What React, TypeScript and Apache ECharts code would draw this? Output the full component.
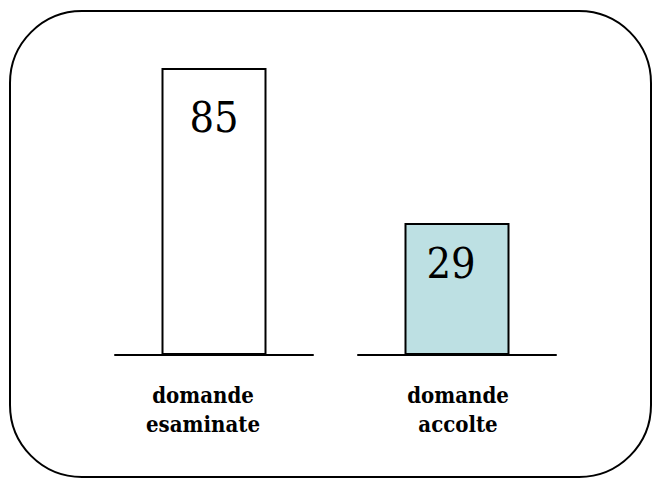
import React, { useEffect, useRef } from "react";
import * as echarts from "echarts";

const categoriesA = ["domande\nesaminate"];
const categoriesB = ["domande\naccolte"];
const valuesA = [85];
const valuesB = [29];
const axisMaxA = 90;
const axisMaxB = 66.8;

const SERIF_C = "'DejaVu Serif Condensed', 'DejaVu Serif', serif";

export default function App() {
  const ref = useRef<HTMLDivElement>(null);
  useEffect(() => {
    document.body.style.margin = "0";
    const chart = echarts.init(ref.current!, null, { renderer: "svg" });
    const catLabel = {
      fontFamily: SERIF_C,
      fontWeight: "bold",
      fontSize: 22,
      lineHeight: 29,
      color: "#000",
      margin: 25,
    };
    const valueLabel = {
      show: true,
      fontFamily: SERIF_C,
      fontSize: 43,
      color: "#000",
      align: "center",
      verticalAlign: "middle",
    };
    chart.setOption({
      animation: false,
      backgroundColor: "#fff",
      graphic: [
        {
          type: "rect",
          shape: { x: 10, y: 11, width: 641, height: 466, r: 72 },
          style: { fill: "none", stroke: "#000", lineWidth: 2 },
          silent: true,
        },
      ],
      grid: [
        { left: 115, width: 198, top: 51, height: 304 },
        { left: 358, width: 198, top: 51, height: 304 },
      ],
      xAxis: [
        {
          type: "category",
          gridIndex: 0,
          data: categoriesA,
          axisLine: { lineStyle: { color: "#000", width: 2 } },
          axisTick: { show: false },
          axisLabel: { ...catLabel, padding: [0, 22, 0, 0] },
        },
        {
          type: "category",
          gridIndex: 1,
          data: categoriesB,
          axisLine: { lineStyle: { color: "#000", width: 2 } },
          axisTick: { show: false },
          axisLabel: { ...catLabel, padding: [0, 0, 0, 2] },
        },
      ],
      yAxis: [
        { type: "value", gridIndex: 0, min: 0, max: axisMaxA, show: false, splitLine: { show: false } },
        { type: "value", gridIndex: 1, min: 0, max: axisMaxB, show: false, splitLine: { show: false } },
      ],
      series: [
        {
          type: "bar",
          xAxisIndex: 0,
          yAxisIndex: 0,
          data: valuesA,
          barWidth: 105,
          itemStyle: { color: "#ffffff", borderColor: "#000", borderWidth: 2 },
          label: { ...valueLabel, position: ["50%", 49.5] },
        },
        {
          type: "bar",
          xAxisIndex: 1,
          yAxisIndex: 1,
          data: valuesB,
          barWidth: 105,
          itemStyle: { color: "#bde0e3", borderColor: "#000", borderWidth: 2 },
          label: { ...valueLabel, position: [46.5, 39.5] },
        },
      ],
    });
    return () => chart.dispose();
  }, []);
  return (
    <div
      ref={ref}
      style={{ position: "absolute", left: 0, top: 0, width: 662, height: 479 }}
    />
  );
}
